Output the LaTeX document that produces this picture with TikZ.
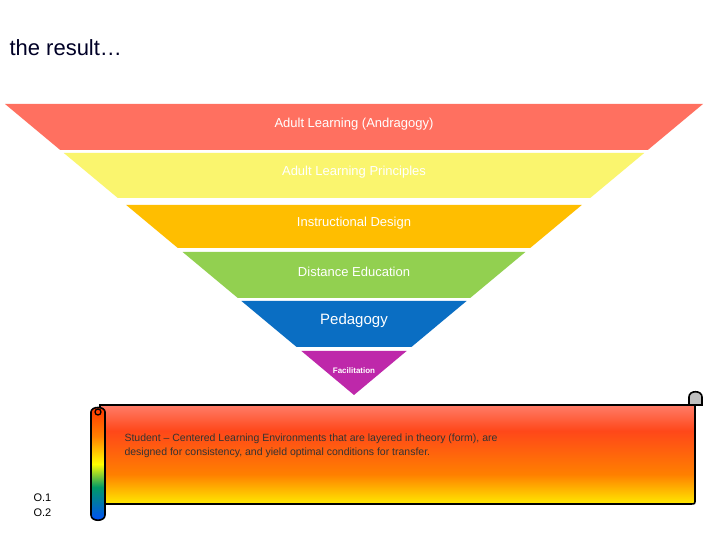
\documentclass[tikz,border=0pt]{standalone}
\usepackage{fontspec}
\setmainfont{Liberation Sans}
\definecolor{cred}{RGB}{255,112,96}
\definecolor{cyel}{RGB}{250,245,110}
\definecolor{cora}{RGB}{255,190,0}
\definecolor{cgrn}{RGB}{146,208,80}
\definecolor{cblu}{RGB}{10,110,195}
\definecolor{cmag}{RGB}{190,40,170}
\pgfdeclareverticalshading{scrollsh}{100bp}{color(0bp)=(teal!80!green); color(8bp)=(teal!80!green); color(22bp)=(yellow); color(40bp)=(orange); color(62bp)=(red!60!orange!90!white); color(85bp)=(red!35!white); color(100bp)=(red!35!white)}
\pgfdeclareverticalshading{rollsh}{100bp}{color(0bp)=(blue!70!cyan); color(25bp)=(blue!70!cyan); color(40bp)=(teal!80!green); color(50bp)=(yellow); color(62bp)=(orange); color(75bp)=(red!60!orange); color(100bp)=(red!35!white)}
\newcommand{\band}[5]{% ytop ybot colour name text
  \fill[#3] ({5+1.2*(#1-104)},{540-#1}) -- ({703-1.2*(#1-104)},{540-#1}) -- ({703-1.2*(#2-104)},{540-#2}) -- ({5+1.2*(#2-104)},{540-#2}) -- cycle;
  \node[lbl] (#4) at (354,{540-(#1+#2)/2+3}) {#5};}
\begin{document}
\begin{tikzpicture}[x=1pt,y=1pt,lbl/.style={font=\fontsize{13}{15}\selectfont,inner sep=0pt}]
\useasboundingbox (0,0) rectangle (720,540);
\fill[white] (0,0) rectangle (720,540);
\node[anchor=west,font=\fontsize{22}{26}\selectfont,text=black!85!blue] (title) at (6,492) {the result…};
\band{104}{150}{cred}{b1}{\textcolor{white}{Adult Learning (Andragogy)}}
\band{153}{198}{cyel}{b2}{\textcolor{white}{Adult Learning Principles}}
\band{205}{248}{cora}{b3}{\textcolor{white}{Instructional Design}}
\band{252}{298}{cgrn}{b4}{\textcolor{white}{Distance Education}}
\band{301}{347}{cblu}{b5}{\textcolor{white}{\fontsize{15}{17}\selectfont Pedagogy}}
\fill[cmag] ({5+1.2*(351-104)},189) -- ({703-1.2*(351-104)},189) -- (354,145) -- cycle;
\node[font=\fontsize{8}{9}\bfseries\rmfamily,text=white] (b6) at (354,169) {Facilitation};
% scroll
\draw[line width=1.6pt,shading=scrollsh] (100,135) -- (695,135) -- (695,40) .. controls (695,36) .. (690,36) -- (100,36) -- cycle;
\draw[line width=1.6pt,fill=black!25] (689,135) -- (689,143) .. controls (689,150) and (702,150) .. (702,143) -- (702,135) -- cycle;
\draw[line width=1.6pt,shading=rollsh] (91,128) .. controls (91,134) and (105,134) .. (105,128) -- (105,25) .. controls (105,18) and (91,18) .. (91,25) -- cycle;
\draw[line width=1.3pt] (98,128) circle (3);
\node[anchor=north west,align=left,font=\fontsize{10.5}{14}\selectfont,text=black!80] (txt) at (121,110) {Student – Centered Learning Environments that are layered in theory (form), are\\designed for consistency, and yield optimal conditions for transfer.};
\node[anchor=west,align=left,font=\fontsize{11}{15}\selectfont] (o) at (30,35) {O.1\\O.2};
\end{tikzpicture}
\end{document}
